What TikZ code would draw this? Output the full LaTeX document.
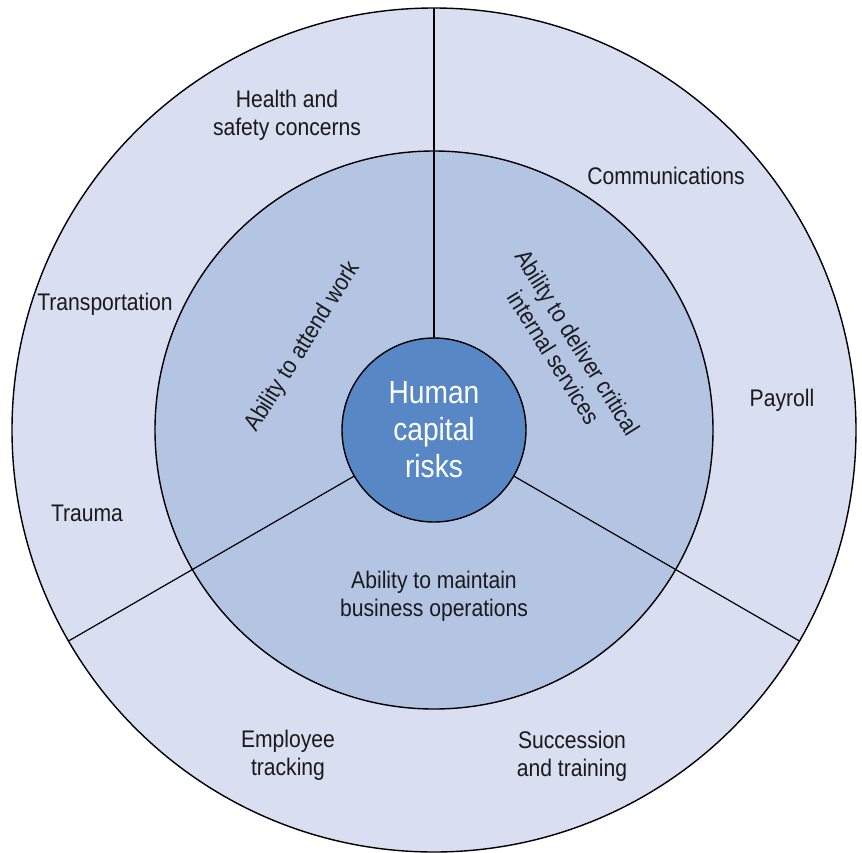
\documentclass[tikz,border=0pt]{standalone}
\usepackage{fontspec}
\setmainfont{Liberation Sans}[FakeStretch=0.88]
\definecolor{outerc}{RGB}{217,222,240}
\definecolor{midc}{RGB}{180,197,228}
\definecolor{innerc}{RGB}{88,135,197}
\definecolor{txt}{RGB}{26,26,26}
\tikzset{
  ring/.style={circle, draw=black, line width=1.4pt, inner sep=0pt, outer sep=0pt},
  divider/.style={draw=black, line width=1.2pt},
  lbl/.style={text=txt, align=center, inner sep=0pt, font=\fontsize{24}{28}\selectfont},
  core/.style={text=white, align=center, font=\fontsize{32}{37}\selectfont}
}
\begin{document}
\begin{tikzpicture}[x=1pt,y=-1pt]
\useasboundingbox (0,0) rectangle (862,852);
\coordinate (c) at (434,430);
\node[ring, fill=outerc, minimum size=844pt] (outer) at (c) {};
\node[ring, fill=midc, minimum size=558pt] (middle) at (c) {};
\node[ring, fill=innerc, minimum size=184pt, core] (inner) at (c) {Human\\capital\\risks};
\draw[divider] (inner.90) -- (outer.90);
\draw[divider] (inner.210) -- (outer.210);
\draw[divider] (inner.330) -- (outer.330);
% outer ring labels
\node[lbl] (health) at (287,115) {Health and\\safety concerns};
\node[lbl] (comm) at (666,176) {Communications};
\node[lbl] (transp) at (105,304) {Transportation};
\node[lbl] (payroll) at (782,400) {Payroll};
\node[lbl] (trauma) at (87,513) {Trauma};
\node[lbl] (emp) at (288,755) {Employee\\tracking};
\node[lbl] (succ) at (572,756) {Succession\\and training};
% middle ring labels
\node[lbl] (attend) at (303,347) [rotate=58] {Ability to attend work};
\node[lbl] (deliver) at (566,350) [rotate=-58] {Ability to deliver critical\\internal services};
\node[lbl] (maintain) at (434,596) {Ability to maintain\\business operations};
\end{tikzpicture}
\end{document}
